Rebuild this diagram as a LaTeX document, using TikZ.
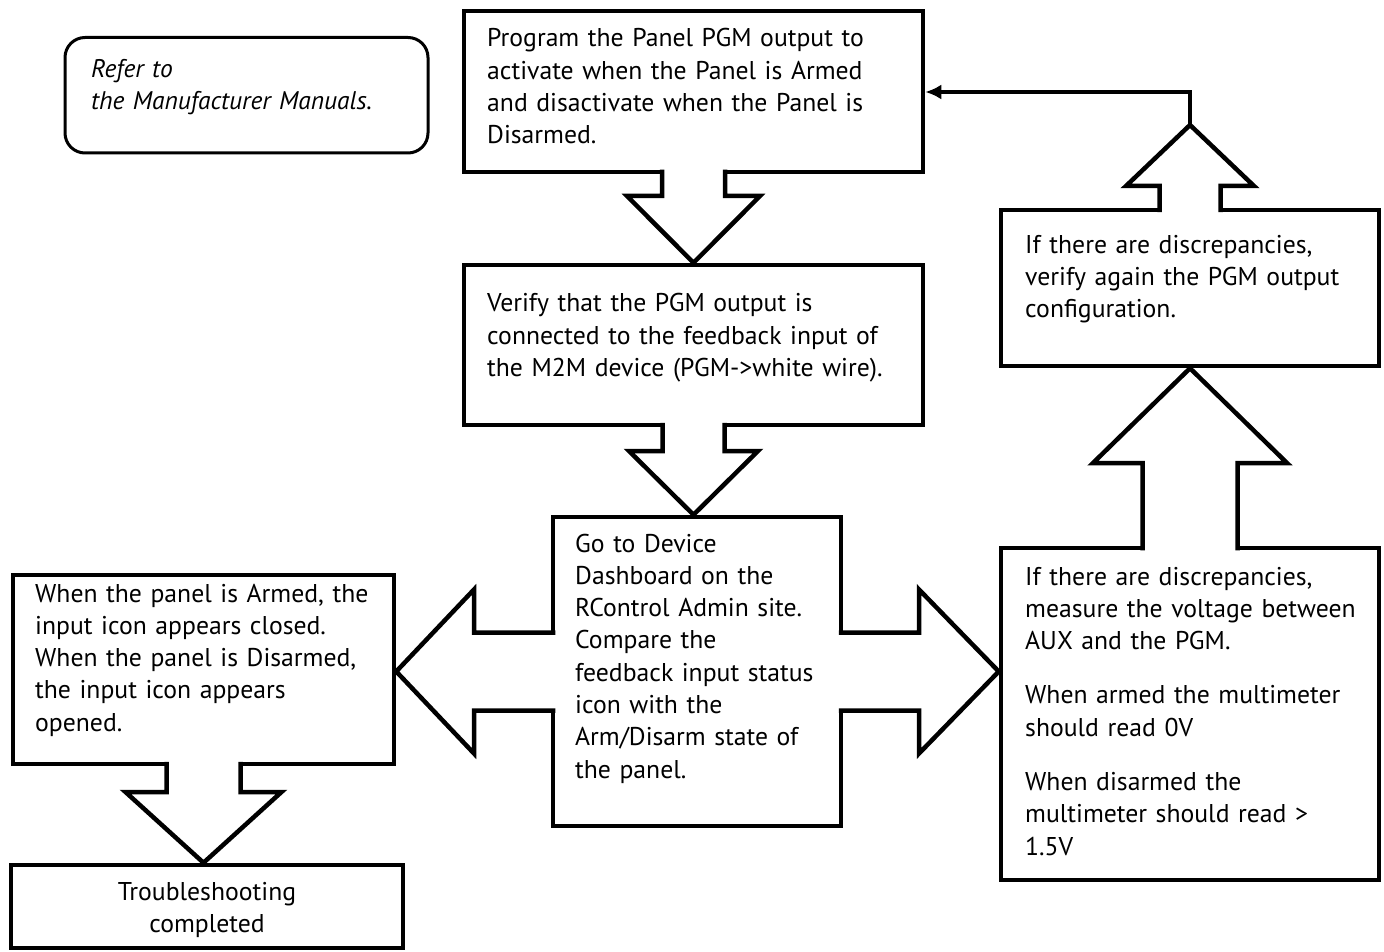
\documentclass[tikz,border=0pt]{standalone}
\usepackage{fontspec}
\setmainfont{PT Sans}
\usetikzlibrary{arrows.meta}
\newcommand\vblock[6]{% #1 xc, #2 y at box edge, #3 y head base, #4 apex, #5 stem half, #6 head half
  \pgfmathsetmacro\sgn{(#3>#2) ? 1 : -1}
  \fill[white] ({#1-#5},{#2-6*\sgn}) -- ({#1-#5},#3) -- ({#1-#6},#3) -- (#4) -- ({#1+#6},#3) -- ({#1+#5},#3) -- ({#1+#5},{#2-6*\sgn}) -- cycle;
  \draw[blk] ({#1-#5},{#2-2.25*\sgn}) -- ({#1-#5},#3) -- ({#1-#6},#3) -- (#4) -- ({#1+#6},#3) -- ({#1+#5},#3) -- ({#1+#5},{#2-2.25*\sgn});
}
\newcommand\hblock[6]{% #1 yc, #2 x at box edge, #3 x head base, #4 apex, #5 stem half, #6 head half
  \pgfmathsetmacro\sgn{(#3>#2) ? 1 : -1}
  \fill[white] ({#2-6*\sgn},{#1-#5}) -- (#3,{#1-#5}) -- (#3,{#1-#6}) -- (#4) -- (#3,{#1+#6}) -- (#3,{#1+#5}) -- ({#2-6*\sgn},{#1+#5}) -- cycle;
  \draw[blk] ({#2-2.25*\sgn},{#1-#5}) -- (#3,{#1-#5}) -- (#3,{#1-#6}) -- (#4) -- (#3,{#1+#6}) -- (#3,{#1+#5}) -- ({#2-2.25*\sgn},{#1+#5});
}
\newcommand\mybox[6][]{\node[box,#1,minimum width={#5-#3},minimum height={#6-#4}] (#2) at ({(#3+#5)/2},{(#4+#6)/2}) {};}
\begin{document}
\begin{tikzpicture}[x=1pt,y=-1pt,
  box/.style={draw,line width=4.5pt,rectangle,inner sep=0pt,fill=white},
  note/.style={draw,line width=3pt,rectangle,rounded corners=20pt,inner sep=0pt},
  blk/.style={line width=4.5pt,line join=miter,draw=black},
  txt/.style={inner sep=0pt,anchor=base west,align=left,text width=600pt,font=\fontsize{25.7}{32.3}\selectfont}]
\useasboundingbox (0,0) rectangle (1384,952);
% boxes
\mybox[note]{b0}{65}{37.5}{428}{153}
\mybox{b1}{464}{11}{923}{172}
\mybox{b2}{464}{265}{923}{425}
\mybox{b3}{553}{517}{841}{826}
\mybox{b4}{13}{575}{394}{764}
\mybox{b5}{11}{865}{403}{948}
\mybox{b6}{1001}{548}{1379}{880}
\mybox{b7}{1001}{210}{1379}{366}
% block arrows
\vblock{693.5}{172}{196}{b2.north}{31.5}{66.5}
\vblock{693.5}{425}{451}{b2.south |- b3.north}{31}{64.5}
\hblock{671.5}{553}{474}{b4.east |- b3.west}{39}{82}
\hblock{671.5}{841}{919}{b6.west |- b3.east}{39}{82}
\vblock{203.5}{764}{792}{b4.south |- b5.north}{37}{78}
\vblock{1190}{548}{463}{b6.north |- b7.south}{47.5}{97}
\coordinate (t7) at (1190,125);
\coordinate (c1) at (1190,92);
\vblock{1190}{210}{186}{t7}{30.5}{64}
\draw[blk,-{Latex[length=16pt,width=15pt]}] (t7) -- (c1) -- (b1.east |- c1);
% texts
\node[txt,font=\fontsize{25.5}{32}\selectfont\itshape] (x0) at (91,78) {Refer to\\the Manufacturer Manuals.};
\node[txt] (x1) at (487,47) {Program the Panel PGM output to\\activate when the Panel is Armed\\and disactivate when the Panel is\\Disarmed.};
\node[txt] (x2) at (487,311.7) {Verify that the PGM output is\\connected to the feedback input of\\the M2M device (PGM->white wire).};
\node[txt] (x3) at (575,552) {Go to Device\\Dashboard on the\\RControl Admin site.\\Compare the\\feedback input status\\icon with the\\Arm/Disarm state of\\the panel.};
\node[txt] (x4) at (35,602) {When the panel is Armed, the\\input icon appears closed.\\When the panel is Disarmed,\\the input icon appears\\opened.};
\node[txt,anchor=base,align=center,text width=380pt] (x5) at (207,900) {Troubleshooting\\completed};
\node[txt] (x6) at (1025,585) {If there are discrepancies,\\measure the voltage between\\AUX and the PGM.\\[22pt]When armed the multimeter\\should read 0V\\[22pt]When disarmed the\\multimeter should read >\\1.5V};
\node[txt] (x7) at (1025,253) {If there are discrepancies,\\verify again the PGM output\\configuration.};
\end{tikzpicture}
\end{document}
